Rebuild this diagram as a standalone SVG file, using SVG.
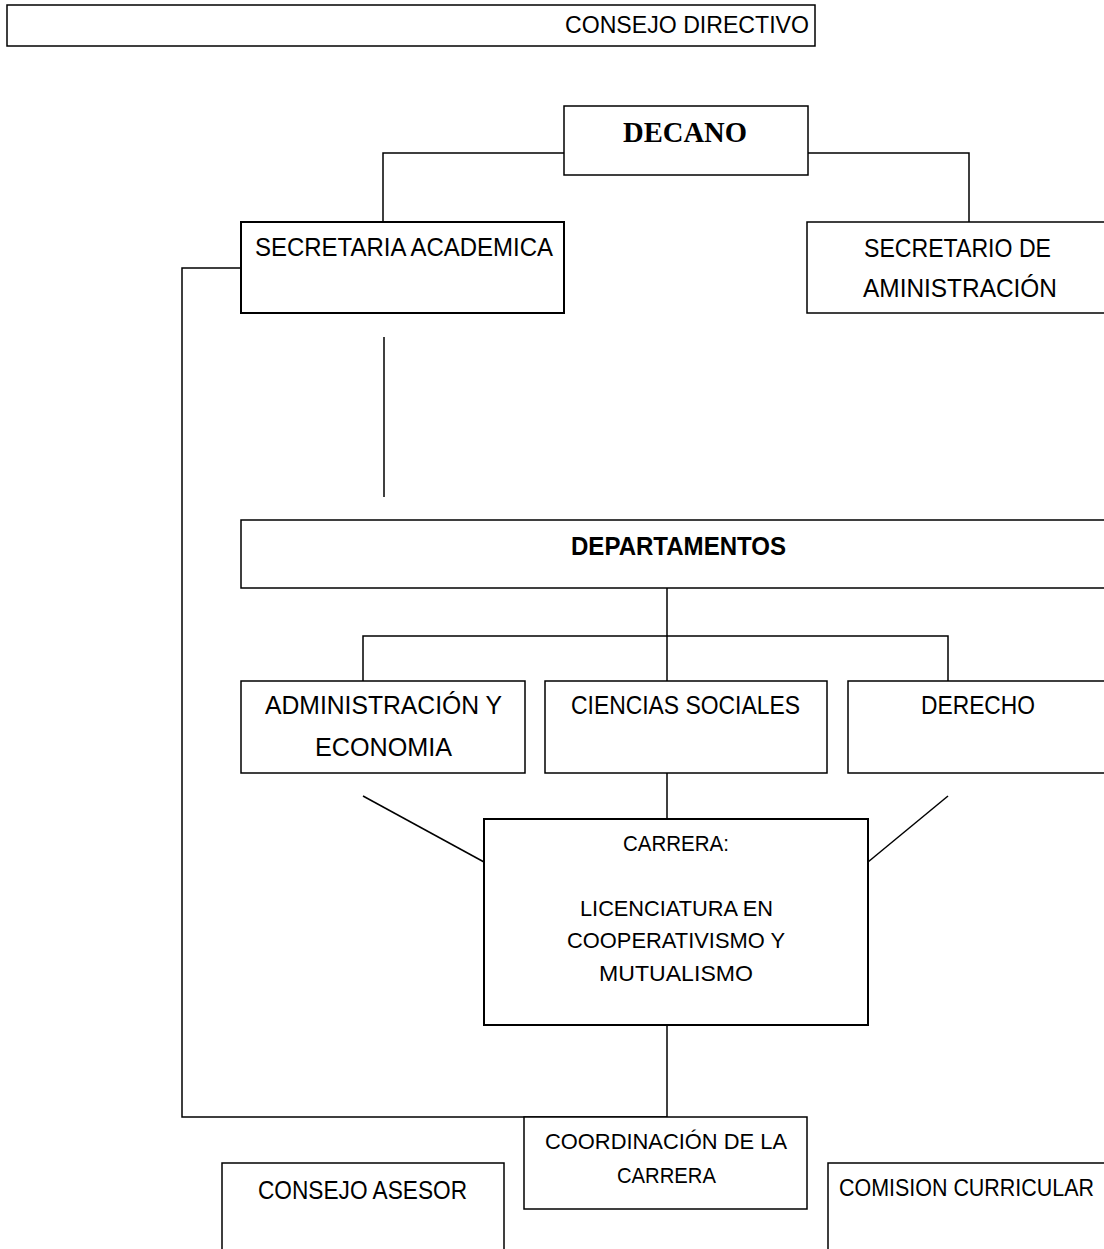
<svg xmlns="http://www.w3.org/2000/svg" width="1104" height="1249" viewBox="0 0 1104 1249">
<style>
.box{fill:#fff;stroke:#000;stroke-width:1.5}
.t{font-family:"Liberation Sans",Arial,sans-serif;font-size:25px;fill:#000}
.c{fill:none;stroke:#000;stroke-width:1.5}
</style>
<rect width="1104" height="1249" fill="#fff"/>
<g id="connectors">
<polyline class="c" points="564,153 383,153 383,222"/>
<polyline class="c" points="808,153 969,153 969,222"/>
<polyline class="c" points="241,268 182,268 182,1117 667,1117"/>
<line class="c" x1="384" y1="337" x2="384" y2="497"/>
<line class="c" x1="667" y1="588" x2="667" y2="681"/>
<polyline class="c" points="363,681 363,636 948,636 948,681"/>
<line class="c" x1="667" y1="773" x2="667" y2="819"/>
<line class="c" x1="363" y1="796" x2="484" y2="862"/>
<line class="c" x1="948" y1="796" x2="868" y2="862"/>
<line class="c" x1="667" y1="1025" x2="667" y2="1117"/>
</g>
<g id="consejo-directivo">
<rect class="box" x="7" y="5" width="808" height="41"/>
<text class="t" x="565" y="33" textLength="244" lengthAdjust="spacingAndGlyphs" style="font-size:24px">CONSEJO DIRECTIVO</text>
</g>
<g id="decano">
<rect class="box" x="564" y="106" width="244" height="69"/>
<text x="623" y="142" textLength="124" lengthAdjust="spacingAndGlyphs" style="font-family:'Liberation Serif','Times New Roman',serif;font-weight:bold;font-size:30px">DECANO</text>
</g>
<g id="secretaria-academica">
<rect class="box" x="241" y="222" width="323" height="91" style="stroke-width:2"/>
<text class="t" x="255" y="256" textLength="298" lengthAdjust="spacingAndGlyphs">SECRETARIA ACADEMICA</text>
</g>
<g id="secretario-administracion">
<rect class="box" x="807" y="222" width="300" height="91"/>
<text class="t" x="864" y="257" textLength="187" lengthAdjust="spacingAndGlyphs">SECRETARIO DE</text>
<text class="t" x="863" y="297" textLength="194" lengthAdjust="spacingAndGlyphs">AMINISTRACIÓN</text>
</g>
<g id="departamentos">
<rect class="box" x="241" y="520" width="866" height="68"/>
<text class="t" x="571" y="555" textLength="215" lengthAdjust="spacingAndGlyphs" style="font-weight:bold">DEPARTAMENTOS</text>
</g>
<g id="administracion-economia">
<rect class="box" x="241" y="681" width="284" height="92"/>
<text class="t" x="265" y="714" textLength="237" lengthAdjust="spacingAndGlyphs">ADMINISTRACIÓN Y</text>
<text class="t" x="315" y="756" textLength="137" lengthAdjust="spacingAndGlyphs">ECONOMIA</text>
</g>
<g id="ciencias-sociales">
<rect class="box" x="545" y="681" width="282" height="92"/>
<text class="t" x="571" y="714" textLength="229" lengthAdjust="spacingAndGlyphs">CIENCIAS SOCIALES</text>
</g>
<g id="derecho">
<rect class="box" x="848" y="681" width="259" height="92"/>
<text class="t" x="921" y="714" textLength="114" lengthAdjust="spacingAndGlyphs">DERECHO</text>
</g>
<g id="carrera">
<rect class="box" x="484" y="819" width="384" height="206" style="stroke-width:2"/>
<text class="t" x="623" y="851" textLength="106" lengthAdjust="spacingAndGlyphs" style="font-size:22px">CARRERA:</text>
<text class="t" x="580" y="916" textLength="193" lengthAdjust="spacingAndGlyphs" style="font-size:22px">LICENCIATURA EN</text>
<text class="t" x="567" y="948" textLength="218" lengthAdjust="spacingAndGlyphs" style="font-size:22px">COOPERATIVISMO Y</text>
<text class="t" x="599" y="981" textLength="154" lengthAdjust="spacingAndGlyphs" style="font-size:22px">MUTUALISMO</text>
</g>
<g id="coordinacion">
<rect class="box" x="524" y="1117" width="283" height="92"/>
<text class="t" x="545" y="1149" textLength="242" lengthAdjust="spacingAndGlyphs" style="font-size:22px">COORDINACIÓN DE LA</text>
<text class="t" x="617" y="1183" textLength="99" lengthAdjust="spacingAndGlyphs" style="font-size:22px">CARRERA</text>
</g>
<g id="consejo-asesor">
<rect class="box" x="222" y="1163" width="282" height="95"/>
<text class="t" x="258" y="1199" textLength="209" lengthAdjust="spacingAndGlyphs" style="font-size:26px">CONSEJO ASESOR</text>
</g>
<g id="comision-curricular">
<rect class="box" x="828" y="1163" width="280" height="95"/>
<text class="t" x="839" y="1196" textLength="255" lengthAdjust="spacingAndGlyphs" style="font-size:24px">COMISION CURRICULAR</text>
</g>
</svg>
